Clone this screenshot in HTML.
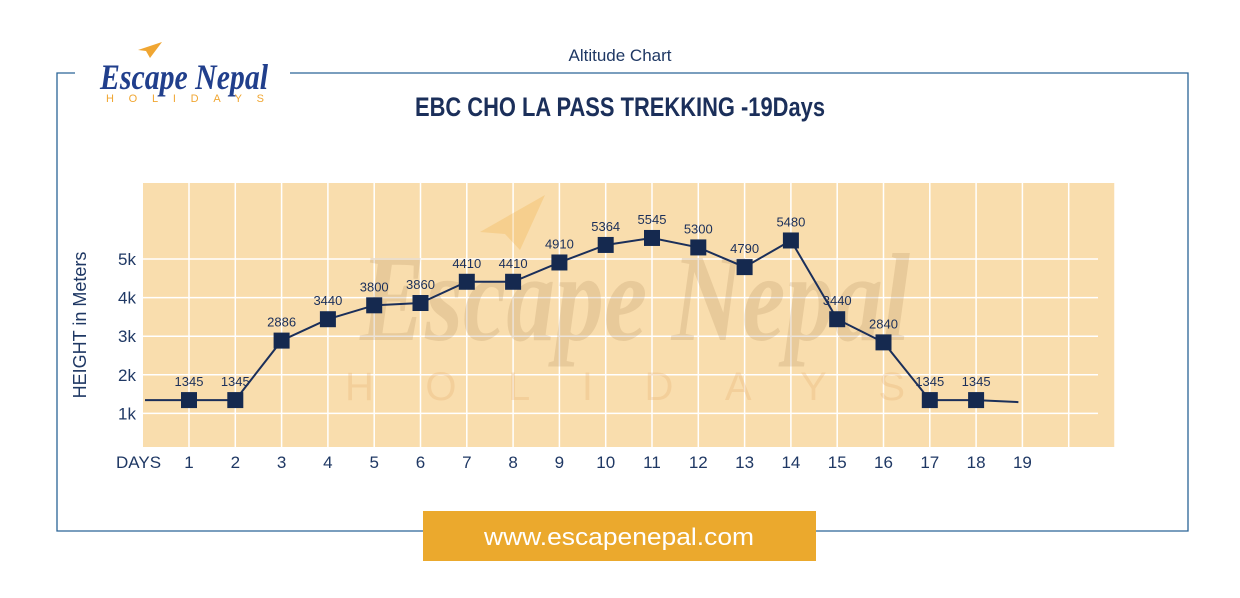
<!DOCTYPE html>
<html><head><meta charset="utf-8">
<style>
html,body{margin:0;padding:0;background:#fff;}
svg{display:block;font-family:"Liberation Sans",sans-serif;}
</style></head>
<body>
<svg id="chart" width="1240" height="598" viewBox="0 0 1240 598">
  <g stroke="#2a6496" stroke-width="1.3" fill="none">
    <path d="M75 73 H57 V531 H423"/>
    <path d="M290 73 H1188 V531 H816"/>
  </g>
  <g>
    <path d="M138 50 L162 42 L150 58 L146 51 Z" fill="#f0a632"/>
    <text x="100" y="89" font-size="36" font-weight="bold" font-style="italic" fill="#213f8c" textLength="168" lengthAdjust="spacingAndGlyphs" font-family="Liberation Serif, serif">Escape Nepal</text>
    <text x="106" y="102" font-size="11" fill="#f0a632" textLength="158" lengthAdjust="spacing">HOLIDAYS</text>
  </g>
  <text x="620" y="61" text-anchor="middle" font-size="17" fill="#1f3864">Altitude Chart</text>
  <text x="620" y="116" text-anchor="middle" font-size="27" font-weight="bold" fill="#1b2f5a" textLength="410" lengthAdjust="spacingAndGlyphs">EBC CHO LA PASS TREKKING -19Days</text>
  <rect x="143" y="183" width="972" height="264" fill="#f9ddad"/>
  <g id="grid"></g>
  <g>
    <path d="M480 232 L545 195 L520 250 L505 234 Z" fill="#f0a632" opacity="0.25"/>
    <text x="360" y="340" font-size="125" font-weight="bold" font-style="italic" fill="#b08a5a" opacity="0.22" textLength="550" lengthAdjust="spacingAndGlyphs" font-family="Liberation Serif, serif">Escape Nepal</text>
    <text x="345" y="400" font-size="40" fill="#e8b070" opacity="0.3" textLength="560" lengthAdjust="spacing">HOLIDAYS</text>
  </g>
  <g id="axes"></g>
  <g id="series"></g>
  <text transform="translate(86,325) rotate(-90)" text-anchor="middle" font-size="18" fill="#1f3864">HEIGHT in Meters</text>
  <text x="116" y="468" font-size="17" fill="#1f3864">DAYS</text>
  <g>
    <rect x="423" y="511" width="393" height="50" fill="#eba92d"/>
    <text x="619" y="545" text-anchor="middle" font-size="24" fill="#fff" textLength="270" lengthAdjust="spacingAndGlyphs">www.escapenepal.com</text>
  </g>
</svg>
<script>
const days = [1,2,3,4,5,6,7,8,9,10,11,12,13,14,15,16,17,18];
const altitudes = [1345,1345,2886,3440,3800,3860,4410,4410,4910,5364,5545,5300,4790,5480,3440,2840,1345,1345];
const xTickLabels = ["1","2","3","4","5","6","7","8","9","10","11","12","13","14","15","16","17","18","19"];
const yTicks = [1000,2000,3000,4000,5000];
const yTickLabels = ["1k","2k","3k","4k","5k"];

const NS = "http://www.w3.org/2000/svg";
function xScale(d){ return 189 + (d-1)*46.3; }
function yScale(v){ return 452 - v*0.0386; }
function mk(tag, attrs, parent){
  const el = document.createElementNS(NS, tag);
  for (const k in attrs) el.setAttribute(k, attrs[k]);
  parent.appendChild(el);
  return el;
}
const grid = document.getElementById('grid');
const axes = document.getElementById('axes');
const series = document.getElementById('series');

for (let d = 1; d <= 21; d++) {
  const l = mk('line', {x1:xScale(d), x2:xScale(d), y1:183, y2:447, stroke:'#fff', 'stroke-width':1.5}, grid);
  
  
}
yTicks.forEach((v, i) => {
  const y = yScale(v);
  const l = mk('line', {x1:143, x2:1098, y1:y, y2:y, stroke:'#fff', 'stroke-width':1.5}, grid);
  
  
  const t = mk('text', {x:136, y:y+6, 'text-anchor':'end', 'font-size':17, fill:'#1f3864'}, axes);
  t.textContent = yTickLabels[i];
  
  
});
xTickLabels.forEach((lab, i) => {
  const t = mk('text', {x:xScale(i+1), y:468, 'text-anchor':'middle', 'font-size':17, fill:'#1f3864'}, axes);
  t.textContent = lab;
  
  
});

let pts = [[145, yScale(altitudes[0])]];
days.forEach((d, i) => pts.push([xScale(d), yScale(altitudes[i])]));
pts.push([xScale(19)-4, yScale(altitudes[altitudes.length-1]) + 2]);
const line = mk('polyline', {points: pts.map(p => p.join(',')).join(' '), fill:'none', stroke:'#1b2f5a', 'stroke-width':2}, series);



days.forEach((d, i) => {
  const x = xScale(d), y = yScale(altitudes[i]);
  const r = mk('rect', {x:x-8, y:y-8, width:16, height:16, fill:'#15294f'}, series);
  
  
  const t = mk('text', {x:x, y:y-14, 'text-anchor':'middle', 'font-size':13, fill:'#1b2f5a'}, series);
  t.textContent = altitudes[i];
  
  
});
</script>
</body></html>
